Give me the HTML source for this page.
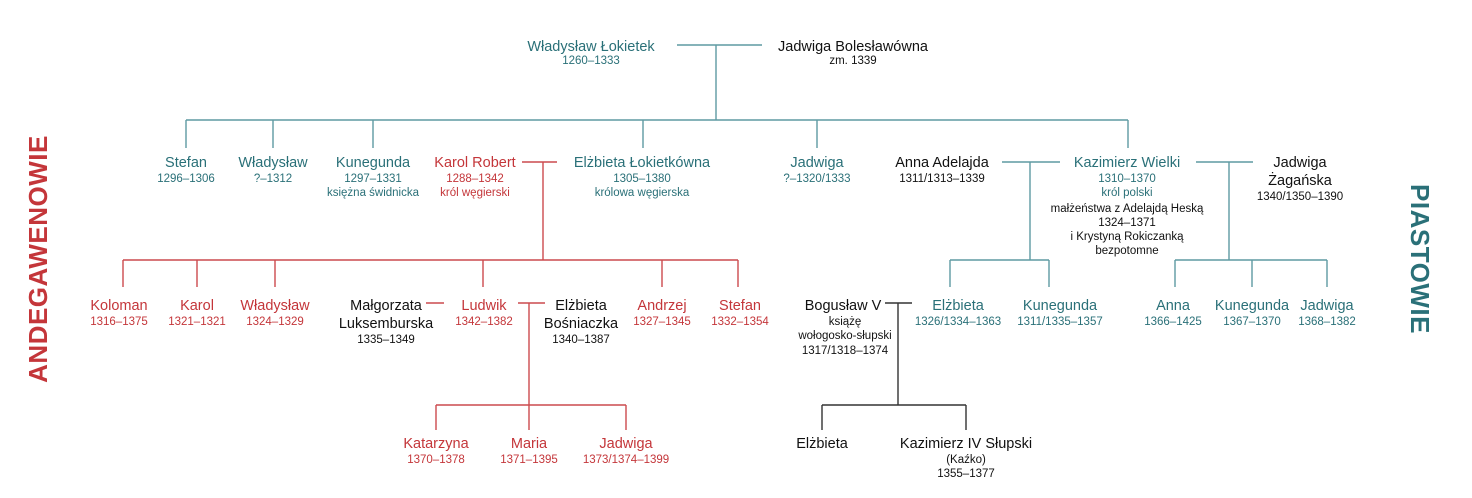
<!DOCTYPE html>
<html><head><meta charset="utf-8"><style>
body{margin:0;background:#fff}
svg{display:block;font-family:"Liberation Sans",sans-serif}
.t{fill:#2a7078}.r{fill:#c4363a}.k{fill:#111}
.n{font-size:14.5px}.d{font-size:11.5px}
</style></head><body>
<svg width="1472" height="498" viewBox="0 0 1472 498" text-anchor="middle">
<g stroke="#5e9aa2" stroke-width="1.4" fill="none">
<path d="M677 45H762M716 45V120M186 120H1128M186 120V148M273 120V148M373 120V148M643 120V148M817 120V148M1128 120V148"/>
<path d="M1002 162H1060M1030 162V260M950 260H1049M950 260V287M1049 260V287"/>
<path d="M1196 162H1253M1229 162V260M1175 260H1327M1175 260V287M1252 260V287M1327 260V287"/>
</g>
<g stroke="#cc4a4e" stroke-width="1.4" fill="none">
<path d="M522 162H557M543 162V260M123 260H738M123 260V287M197 260V287M275 260V287M483 260V287M662 260V287M738 260V287"/>
<path d="M426 303H444M518 303H545M529 303V405M436 405H626M436 405V430M529 405V430M626 405V430"/>
</g>
<g stroke="#333" stroke-width="1.4" fill="none">
<path d="M885 303H912M898 303V405M822 405H966M822 405V430M966 405V430"/>
</g>
<text x="40" y="259" transform="rotate(-90 40 259)" dominant-baseline="middle" class="r" font-size="26" font-weight="bold" letter-spacing="0.5">ANDEGAWENOWIE</text>
<text x="1418" y="259" transform="rotate(90 1418 259)" dominant-baseline="middle" class="t" font-size="26" font-weight="bold" letter-spacing="0.5">PIASTOWIE</text>

<text x="591" y="51" class="t n">Władysław Łokietek</text><text x="591" y="64" class="t d">1260–1333</text>
<text x="853" y="51" class="k n">Jadwiga Bolesławówna</text><text x="853" y="64" class="k d">zm. 1339</text>

<text x="186" y="167" class="t n">Stefan</text><text x="186" y="182" class="t d">1296–1306</text>
<text x="273" y="167" class="t n">Władysław</text><text x="273" y="182" class="t d">?–1312</text>
<text x="373" y="167" class="t n">Kunegunda</text><text x="373" y="182" class="t d">1297–1331</text><text x="373" y="196" class="t d">księżna świdnicka</text>
<text x="475" y="167" class="r n">Karol Robert</text><text x="475" y="182" class="r d">1288–1342</text><text x="475" y="196" class="r d">król węgierski</text>
<text x="642" y="167" class="t n">Elżbieta Łokietkówna</text><text x="642" y="182" class="t d">1305–1380</text><text x="642" y="196" class="t d">królowa węgierska</text>
<text x="817" y="167" class="t n">Jadwiga</text><text x="817" y="182" class="t d">?–1320/1333</text>
<text x="942" y="167" class="k n">Anna Adelajda</text><text x="942" y="182" class="k d">1311/1313–1339</text>
<text x="1127" y="167" class="t n">Kazimierz Wielki</text><text x="1127" y="182" class="t d">1310–1370</text><text x="1127" y="196" class="t d">król polski</text>
<text x="1127" y="212" class="k d">małżeństwa z Adelajdą Heską</text><text x="1127" y="226" class="k d">1324–1371</text><text x="1127" y="240" class="k d">i Krystyną Rokiczanką</text><text x="1127" y="254" class="k d">bezpotomne</text>
<text x="1300" y="167" class="k n">Jadwiga</text><text x="1300" y="185" class="k n">Żagańska</text><text x="1300" y="200" class="k d">1340/1350–1390</text>

<text x="119" y="310" class="r n">Koloman</text><text x="119" y="325" class="r d">1316–1375</text>
<text x="197" y="310" class="r n">Karol</text><text x="197" y="325" class="r d">1321–1321</text>
<text x="275" y="310" class="r n">Władysław</text><text x="275" y="325" class="r d">1324–1329</text>
<text x="386" y="310" class="k n">Małgorzata</text><text x="386" y="328" class="k n">Luksemburska</text><text x="386" y="343" class="k d">1335–1349</text>
<text x="484" y="310" class="r n">Ludwik</text><text x="484" y="325" class="r d">1342–1382</text>
<text x="581" y="310" class="k n">Elżbieta</text><text x="581" y="328" class="k n">Bośniaczka</text><text x="581" y="343" class="k d">1340–1387</text>
<text x="662" y="310" class="r n">Andrzej</text><text x="662" y="325" class="r d">1327–1345</text>
<text x="740" y="310" class="r n">Stefan</text><text x="740" y="325" class="r d">1332–1354</text>
<text x="843" y="310" class="k n">Bogusław V</text><text x="845" y="325" class="k d">książę</text><text x="845" y="339" class="k d">wołogosko-słupski</text><text x="845" y="354" class="k d">1317/1318–1374</text>
<text x="958" y="310" class="t n">Elżbieta</text><text x="958" y="325" class="t d">1326/1334–1363</text>
<text x="1060" y="310" class="t n">Kunegunda</text><text x="1060" y="325" class="t d">1311/1335–1357</text>
<text x="1173" y="310" class="t n">Anna</text><text x="1173" y="325" class="t d">1366–1425</text>
<text x="1252" y="310" class="t n">Kunegunda</text><text x="1252" y="325" class="t d">1367–1370</text>
<text x="1327" y="310" class="t n">Jadwiga</text><text x="1327" y="325" class="t d">1368–1382</text>

<text x="436" y="448" class="r n">Katarzyna</text><text x="436" y="463" class="r d">1370–1378</text>
<text x="529" y="448" class="r n">Maria</text><text x="529" y="463" class="r d">1371–1395</text>
<text x="626" y="448" class="r n">Jadwiga</text><text x="626" y="463" class="r d">1373/1374–1399</text>
<text x="822" y="448" class="k n">Elżbieta</text>
<text x="966" y="448" class="k n">Kazimierz IV Słupski</text><text x="966" y="463" class="k d">(Kaźko)</text><text x="966" y="477" class="k d">1355–1377</text>
</svg>
</body></html>
